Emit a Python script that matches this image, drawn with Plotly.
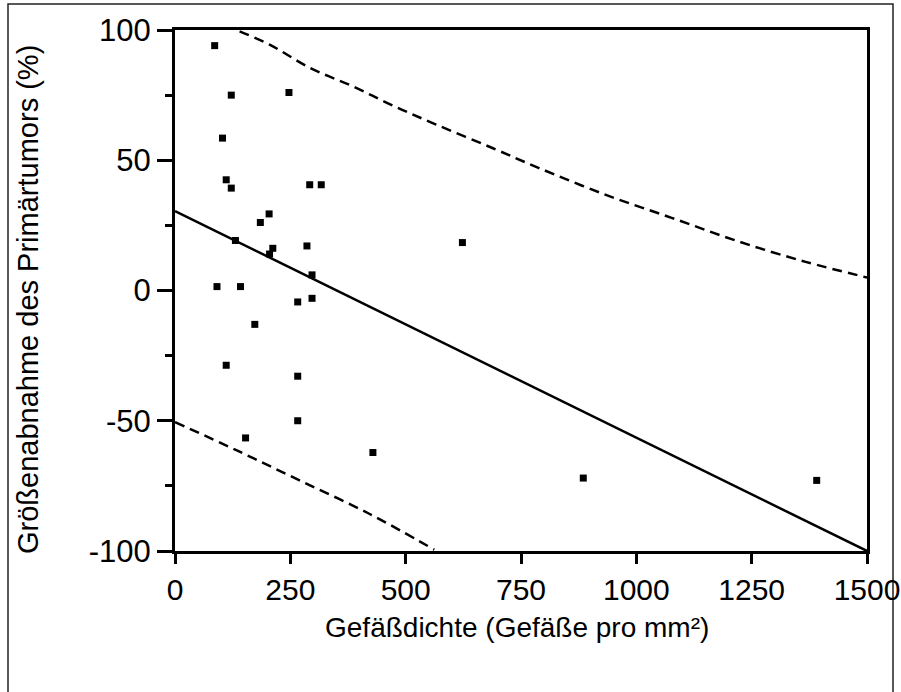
import plotly.graph_objects as go

# Data points (Gefäßdichte, Größenabnahme)
vessel_density = [86, 122, 247, 103, 111, 122, 292, 317, 204, 185, 131, 212, 205,
                  286, 297, 91, 142, 266, 297, 173, 111, 266, 266, 153, 623, 429,
                  885, 1391]
size_reduction = [94, 75, 76, 58.5, 42.5, 39.3, 40.6, 40.6, 29.4, 26.1, 19.2, 16.2, 14,
                  17.1, 6, 1.5, 1.5, -4.4, -3, -13, -28.7, -32.9, -50, -56.6, 18.4, -62.2,
                  -72, -72.9]

# Regression line (read endpoints)
reg_x = [0, 1500]
reg_y = [30.5, -100]

# Upper prediction band
upper_x = [140, 205, 292, 385, 472, 566, 688, 789, 934, 1078, 1222, 1367, 1500]
upper_y = [99.5, 94.4, 85.5, 78.4, 71, 63.7, 54.7, 47, 36.7, 27.8, 18.8, 11, 5]

# Lower prediction band
lower_x = [0, 133, 270, 421, 562]
lower_y = [-50.5, -61.3, -72.9, -85.7, -99.5]

x_ticks = [0, 250, 500, 750, 1000, 1250, 1500]
y_ticks = [-100, -50, 0, 50, 100]

FONT = "Arial, Liberation Sans, sans-serif"

fig = go.Figure()
fig.add_trace(go.Scatter(x=reg_x, y=reg_y, mode="lines",
                         line=dict(color="black", width=2.5), showlegend=False))
fig.add_trace(go.Scatter(x=upper_x, y=upper_y, mode="lines",
                         line=dict(color="black", width=2.5, dash="10px,6px", shape="spline"),
                         showlegend=False))
fig.add_trace(go.Scatter(x=lower_x, y=lower_y, mode="lines",
                         line=dict(color="black", width=2.5, dash="10px,6px", shape="spline"),
                         showlegend=False))
fig.add_trace(go.Scatter(x=vessel_density, y=size_reduction, mode="markers",
                         marker=dict(symbol="square", size=7, color="black",
                                     line=dict(width=0)),
                         showlegend=False))

L, R, T, B = 175, 34, 30, 141
W, H = 901, 692
pw, ph = W - L - R, H - T - B

fig.update_layout(
    width=W, height=H,
    margin=dict(l=L, r=R, t=T, b=B, autoexpand=False),
    paper_bgcolor="white", plot_bgcolor="white",
    font=dict(family=FONT, color="black"),
    xaxis=dict(range=[0, 1500], tickvals=x_ticks, ticktext=[str(v) for v in x_ticks],
               automargin=False, ticklabeloverflow="allow",
               showgrid=False, zeroline=False, showline=True, linecolor="black",
               linewidth=3, mirror=True, ticks="outside", ticklen=10, tickwidth=3,
               tickcolor="black", tickfont=dict(size=30, family=FONT)),
    yaxis=dict(range=[-100, 100], tickvals=y_ticks, ticktext=[str(v) for v in y_ticks],
               automargin=False, ticklabeloverflow="allow",
               showgrid=False, zeroline=False, showline=True, linecolor="black",
               linewidth=3, mirror=True, ticks="outside", ticklen=15, tickwidth=3,
               tickcolor="black", tickfont=dict(size=31, family=FONT),
               minor=dict(dtick=25, tick0=0, ticks="outside", ticklen=7, tickwidth=3,
                          tickcolor="black", showgrid=False)),
    annotations=[
        dict(text="Gefäßdichte (Gefäße pro mm²)", xref="paper", yref="paper",
             x=(517 - L) / pw, y=(H - B - 627) / ph, xanchor="center", yanchor="middle",
             showarrow=False, font=dict(size=28, family=FONT, color="black")),
        dict(text="Größenabnahme des Primärtumors (%)", xref="paper", yref="paper",
             x=(28 - L) / pw, y=(H - B - 300) / ph, xanchor="center", yanchor="middle",
             textangle=-90, showarrow=False, font=dict(size=29, family=FONT, color="black")),
    ],
    shapes=[
        dict(type="rect", xref="paper", yref="paper",
             x0=(8 - L) / pw, x1=(893 - L) / pw, y0=(H - B - 700) / ph, y1=(H - B - 4) / ph,
             line=dict(color="#222222", width=1.5), layer="below"),
    ],
)

fig.write_html("out.html")
